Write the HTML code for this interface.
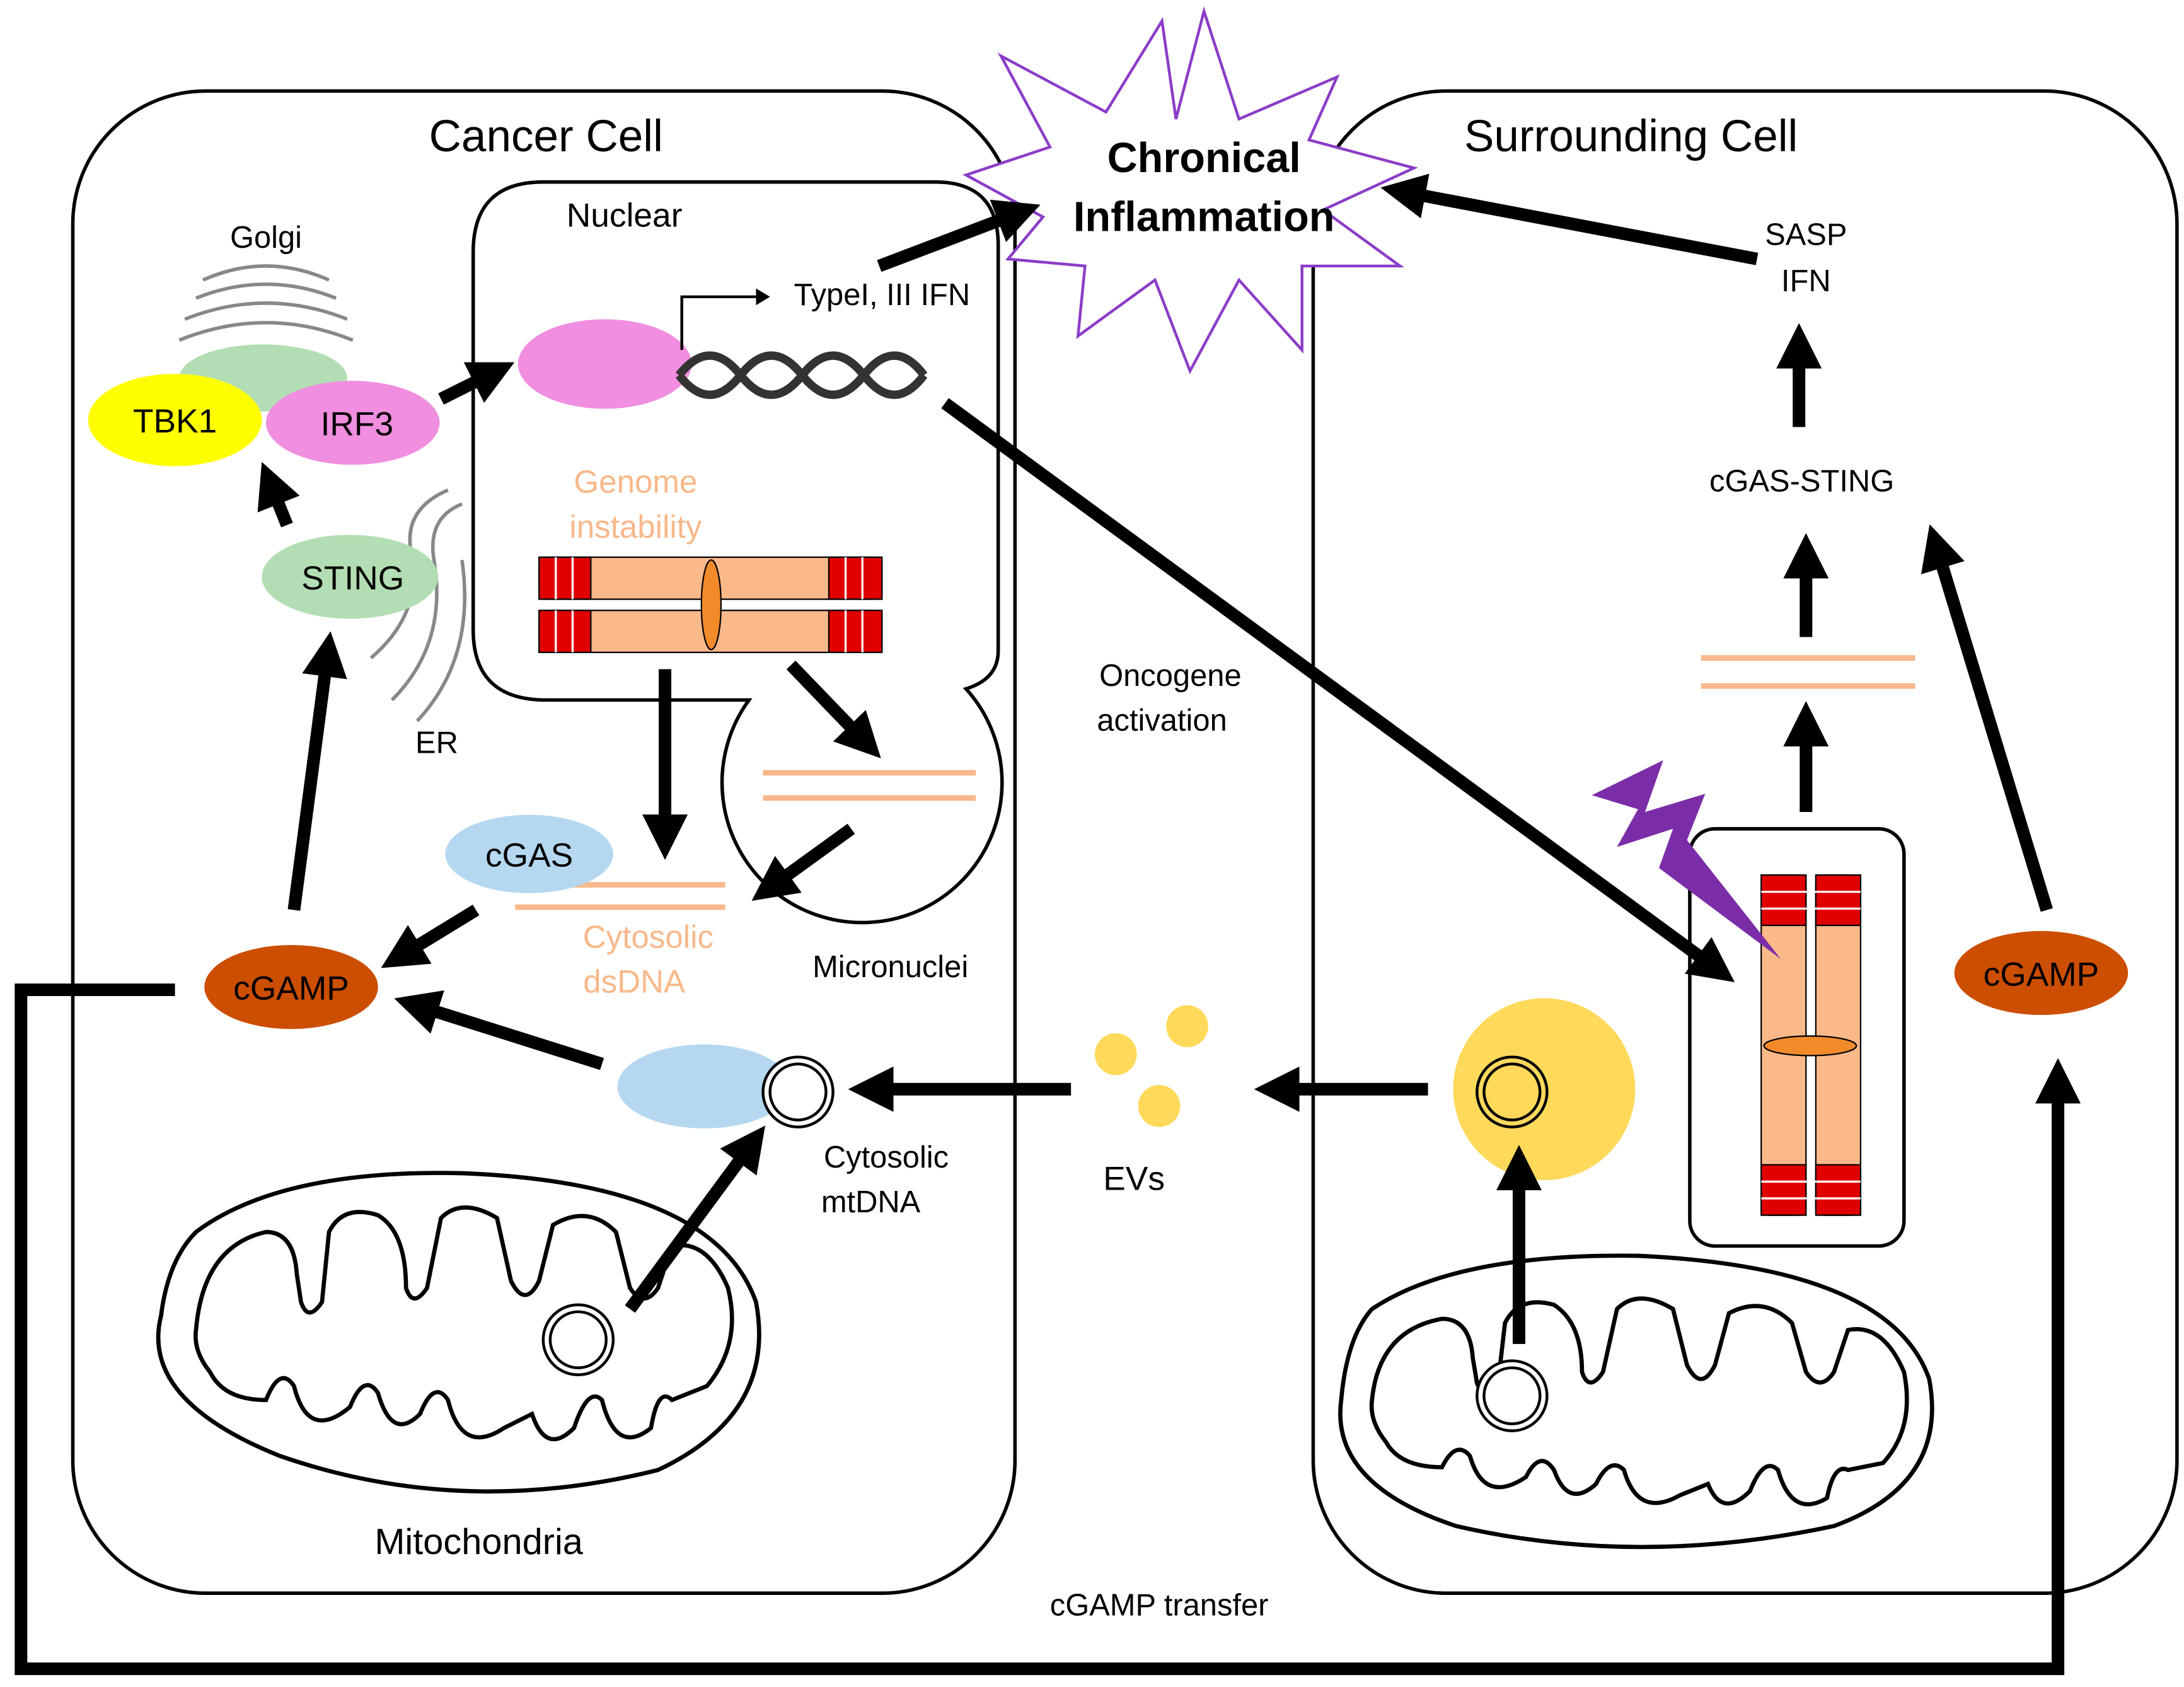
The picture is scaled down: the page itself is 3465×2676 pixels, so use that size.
<!DOCTYPE html>
<html><head><meta charset="utf-8"><style>
html,body{margin:0;padding:0;background:#fff;}
svg{display:block;}
text{font-family:"Liberation Sans",sans-serif;}
</style></head><body>
<svg width="3465" height="2676" viewBox="0 0 1560 1205" preserveAspectRatio="none" xmlns="http://www.w3.org/2000/svg">
<defs>
<marker id="ah" markerWidth="3.6" markerHeight="3.6" refX="1.8" refY="1.8" orient="auto" markerUnits="strokeWidth">
<path d="M0,0 L3.6,1.8 L0,3.6 Z" fill="#000"/>
</marker>
</defs>
<rect width="1560" height="1205" fill="#fff"/>
<!-- cells -->
<rect x="52" y="65" width="673" height="1073" rx="95" fill="none" stroke="#000" stroke-width="2.5"/>
<rect x="938" y="65" width="617" height="1073" rx="95" fill="none" stroke="#000" stroke-width="2.5"/>
<!-- star -->
<polygon points="860,8 885,85 955,55 935,100 1010,120 945,150 1000,190 930,190 930,250 885,200 850,265 825,200 770,240 775,190 720,185 745,155 690,125 750,105 715,40 790,80 830,15 840,85" fill="#fff" stroke="#8b3cc8" stroke-width="2"/>
<text x="860" y="123" font-size="30" font-weight="bold" text-anchor="middle">Chronical</text>
<text x="860" y="165" font-size="30" font-weight="bold" text-anchor="middle">Inflammation</text>
<!-- nucleus + micronuclei -->
<path d="M388,130 L668,130 Q713,130 713,175 L713,465 Q713,485 690,492 A100,100 0 1 1 535,500 L390,500 Q338,500 338,450 L338,180 Q338,130 388,130 Z" fill="#fff" stroke="#000" stroke-width="2.5"/>
<!-- labels -->
<text x="390" y="108" font-size="32" text-anchor="middle">Cancer Cell</text>
<text x="1165" y="108" font-size="32" text-anchor="middle">Surrounding Cell</text>
<text x="190" y="177" font-size="22" text-anchor="middle">Golgi</text>
<text x="446" y="162" font-size="24" text-anchor="middle">Nuclear</text>
<text x="630" y="218" font-size="22" text-anchor="middle">TypeI, III IFN</text>
<text x="454" y="352" font-size="23" fill="#f8b88a" text-anchor="middle">Genome</text>
<text x="454" y="384" font-size="23" fill="#f8b88a" text-anchor="middle">instability</text>
<text x="312" y="538" font-size="22" text-anchor="middle">ER</text>
<text x="463" y="677" font-size="23" fill="#f8b88a" text-anchor="middle">Cytosolic</text>
<text x="453" y="709" font-size="23" fill="#f8b88a" text-anchor="middle">dsDNA</text>
<text x="636" y="698" font-size="22" text-anchor="middle">Micronuclei</text>
<text x="836" y="490" font-size="22" text-anchor="middle">Oncogene</text>
<text x="830" y="522" font-size="22" text-anchor="middle">activation</text>
<text x="810" y="850" font-size="24" text-anchor="middle">EVs</text>
<text x="633" y="834" font-size="22" text-anchor="middle">Cytosolic</text>
<text x="622" y="866" font-size="22" text-anchor="middle">mtDNA</text>
<text x="352" y="1000" font-size="22" text-anchor="middle">mtDNA</text>
<text x="342" y="1110" font-size="26" text-anchor="middle">Mitochondria</text>
<text x="828" y="1154" font-size="22" text-anchor="middle">cGAMP transfer</text>
<text x="1290" y="175" font-size="22" text-anchor="middle">SASP</text>
<text x="1290" y="208" font-size="22" text-anchor="middle">IFN</text>
<text x="1287" y="351" font-size="22" text-anchor="middle">cGAS-STING</text>
<!-- golgi / ER -->
<g fill="none" stroke="#888" stroke-width="2.5">
<path d="M145,200 Q190,180 235,200"/><path d="M140,213 Q190,193 240,213"/><path d="M132,228 Q190,205 248,228"/><path d="M128,243 Q190,218 252,243"/>
<path d="M265,470 Q300,440 295,400 Q285,365 320,350"/><path d="M280,500 Q320,460 310,400 Q305,370 330,360"/><path d="M298,515 Q340,470 330,400"/>
</g>
<ellipse cx="188" cy="270" rx="60" ry="24" fill="#b3deb3"/>
<ellipse cx="125" cy="300" rx="62" ry="33" fill="#ffff00"/>
<ellipse cx="252" cy="302" rx="62" ry="30" fill="#f08ee0"/>
<text x="125" y="309" font-size="24" text-anchor="middle">TBK1</text>
<text x="255" y="311" font-size="24" text-anchor="middle">IRF3</text>
<ellipse cx="250" cy="412" rx="63" ry="30" fill="#b3deb3"/>
<text x="252" y="421" font-size="24" text-anchor="middle">STING</text>
<ellipse cx="432" cy="260" rx="62" ry="32" fill="#f08ee0"/>
<!-- transcription arrow -->
<path d="M487,250 L487,212 L540,212" fill="none" stroke="#000" stroke-width="2"/>
<path d="M540,206 L550,212 L540,218 Z"/>
<!-- DNA helix -->
<g fill="none" stroke="#333" stroke-width="6">
<path d="M485,268 Q507,240 529,268 T573,268 T617,268 T660,268"/>
<path d="M485,268 Q507,296 529,268 T573,268 T617,268 T660,268"/>
</g>
<!-- nuclear chromosomes -->
<g stroke="#000" stroke-width="1">
<rect x="385" y="398" width="245" height="30" rx="6" fill="#fbb98a"/>
<rect x="385" y="436" width="245" height="30" rx="6" fill="#fbb98a"/>
<rect x="385" y="398" width="37" height="30" fill="#e00000"/>
<rect x="385" y="436" width="37" height="30" fill="#e00000"/>
<rect x="592" y="398" width="38" height="30" fill="#e00000"/>
<rect x="592" y="436" width="38" height="30" fill="#e00000"/>
<ellipse cx="508" cy="432" rx="7" ry="32" fill="#f28a2a"/>
</g>
<g stroke="#fff" stroke-width="1.5"><path d="M397,398v30M409,398v30M397,436v30M409,436v30M604,398v30M616,398v30M604,436v30M616,436v30"/></g>
<!-- dsDNA -->
<g stroke="#f8b88a" stroke-width="4">
<path d="M410,632H518M368,648H518"/>
<path d="M545,552H697M545,570H697"/>
<path d="M1215,470H1368M1215,490H1368"/>
</g>
<ellipse cx="378" cy="610" rx="60" ry="28" fill="#b5d8f0"/>
<text x="378" y="619" font-size="24" text-anchor="middle">cGAS</text>
<ellipse cx="208" cy="705" rx="62" ry="30" fill="#cc4e00"/>
<text x="208" y="714" font-size="24" text-anchor="middle">cGAMP</text>
<ellipse cx="1458" cy="695" rx="62" ry="30" fill="#cc4e00"/>
<text x="1458" y="704" font-size="24" text-anchor="middle">cGAMP</text>
<ellipse cx="503" cy="776" rx="62" ry="30" fill="#b5d8f0"/>
<circle cx="570" cy="780" r="25" fill="#fff" stroke="#000" stroke-width="2"/><circle cx="570" cy="780" r="20" fill="none" stroke="#000" stroke-width="2"/>
<circle cx="797" cy="753" r="15" fill="#ffd95a"/><circle cx="848" cy="733" r="15" fill="#ffd95a"/><circle cx="828" cy="790" r="15" fill="#ffd95a"/>
<circle cx="1103" cy="778" r="65" fill="#ffd95a"/>
<circle cx="1080" cy="780" r="25" fill="none" stroke="#000" stroke-width="2"/><circle cx="1080" cy="780" r="20" fill="none" stroke="#000" stroke-width="2"/>
<!-- mitochondria left -->
<path d="M140,880 Q200,835 330,838 Q510,845 540,930 Q555,1010 470,1050 Q330,1085 200,1040 Q100,1000 115,940 Q120,900 140,880 Z" fill="#fff" stroke="#000" stroke-width="3"/>
<path d="M140,950 Q145,890 190,880 Q210,880 212,910 L215,930 Q220,945 230,930 L235,880 Q245,860 270,868 Q290,880 290,920 Q295,935 305,920 L315,870 Q330,855 355,870 L365,915 Q375,935 385,915 L395,875 Q420,860 440,880 L450,920 Q460,935 470,920 L480,890 Q505,885 520,920 Q530,960 505,990 L480,1000 Q470,990 465,1020 Q440,1040 430,1000 Q420,990 410,1020 Q390,1040 380,1010 L360,1020 Q330,1040 320,1000 Q310,985 300,1010 Q280,1030 270,995 Q260,980 250,1005 Q220,1030 210,990 Q200,975 190,1000 Q160,1000 150,980 Q138,965 140,950 Z" fill="none" stroke="#000" stroke-width="3"/>
<circle cx="413" cy="957" r="25" fill="#fff" stroke="#000" stroke-width="2"/><circle cx="413" cy="957" r="20" fill="none" stroke="#000" stroke-width="2"/>
<!-- mitochondria right -->
<path d="M980,935 Q1040,895 1170,897 Q1350,905 1378,985 Q1392,1060 1310,1090 Q1170,1120 1040,1090 Q950,1060 958,1000 Q962,955 980,935 Z" fill="#fff" stroke="#000" stroke-width="3"/>
<path d="M980,1000 Q985,950 1030,942 Q1050,942 1052,970 L1055,988 Q1060,1000 1070,988 L1075,945 Q1085,925 1110,932 Q1130,945 1130,980 Q1135,995 1145,980 L1155,935 Q1170,920 1195,935 L1205,975 Q1215,995 1225,975 L1235,938 Q1260,925 1280,945 L1290,980 Q1300,995 1310,980 L1320,950 Q1345,945 1360,980 Q1368,1020 1345,1045 L1320,1050 Q1310,1045 1305,1070 Q1280,1085 1270,1050 Q1260,1040 1250,1065 Q1230,1085 1220,1060 L1200,1068 Q1170,1085 1160,1050 Q1150,1040 1140,1060 Q1120,1078 1110,1050 Q1100,1035 1090,1055 Q1060,1075 1050,1040 Q1040,1028 1030,1048 Q1000,1048 990,1030 Q978,1015 980,1000 Z" fill="none" stroke="#000" stroke-width="3"/>
<circle cx="1080" cy="997" r="25" fill="#fff" stroke="#000" stroke-width="2"/><circle cx="1080" cy="997" r="20" fill="none" stroke="#000" stroke-width="2"/>
<!-- right chromosome box -->
<rect x="1207" y="592" width="153" height="298" rx="18" fill="#fff" stroke="#000" stroke-width="2.5"/>
<g stroke="#000" stroke-width="1">
<rect x="1258" y="625" width="32" height="243" rx="6" fill="#fbb98a"/>
<rect x="1297" y="625" width="32" height="243" rx="6" fill="#fbb98a"/>
<rect x="1258" y="625" width="32" height="36" fill="#e00000"/>
<rect x="1297" y="625" width="32" height="36" fill="#e00000"/>
<rect x="1258" y="832" width="32" height="36" fill="#e00000"/>
<rect x="1297" y="832" width="32" height="36" fill="#e00000"/>
<ellipse cx="1293" cy="747" rx="33" ry="7" fill="#f28a2a"/>
</g>
<g stroke="#fff" stroke-width="1.5"><path d="M1258,637h71M1258,649h71M1258,844h71M1258,856h71"/></g>
<polygon points="1137,568 1188,543 1175,580 1218,567 1205,600 1272,685 1185,620 1195,592 1155,605 1170,578" fill="#7b2da8"/>
<!-- arrows -->
<g stroke="#000" stroke-width="9" fill="none" marker-end="url(#ah)">
<path d="M628,190 L728,152"/>
<path d="M1255,185 L1002,137"/>
<path d="M315,285 L353,266"/>
<path d="M205,375 L193,345"/>
<path d="M210,650 L234,467"/>
<path d="M475,478 L475,598"/>
<path d="M565,475 L618,530"/>
<path d="M608,592 L550,634"/>
<path d="M340,650 L286,683"/>
<path d="M430,760 L297,718"/>
<path d="M765,778 L622,778"/>
<path d="M1020,778 L912,778"/>
<path d="M450,935 L537,817"/>
<path d="M1085,960 L1085,834"/>
<path d="M675,288 L1226,692"/>
<path d="M1290,580 L1290,517"/>
<path d="M1290,455 L1290,397"/>
<path d="M1285,305 L1285,247"/>
<path d="M1462,650 L1383,390"/>
<path d="M125,707 L15,707 L15,1192 L1470,1192 L1470,772"/>
</g>
</svg>
</body></html>
